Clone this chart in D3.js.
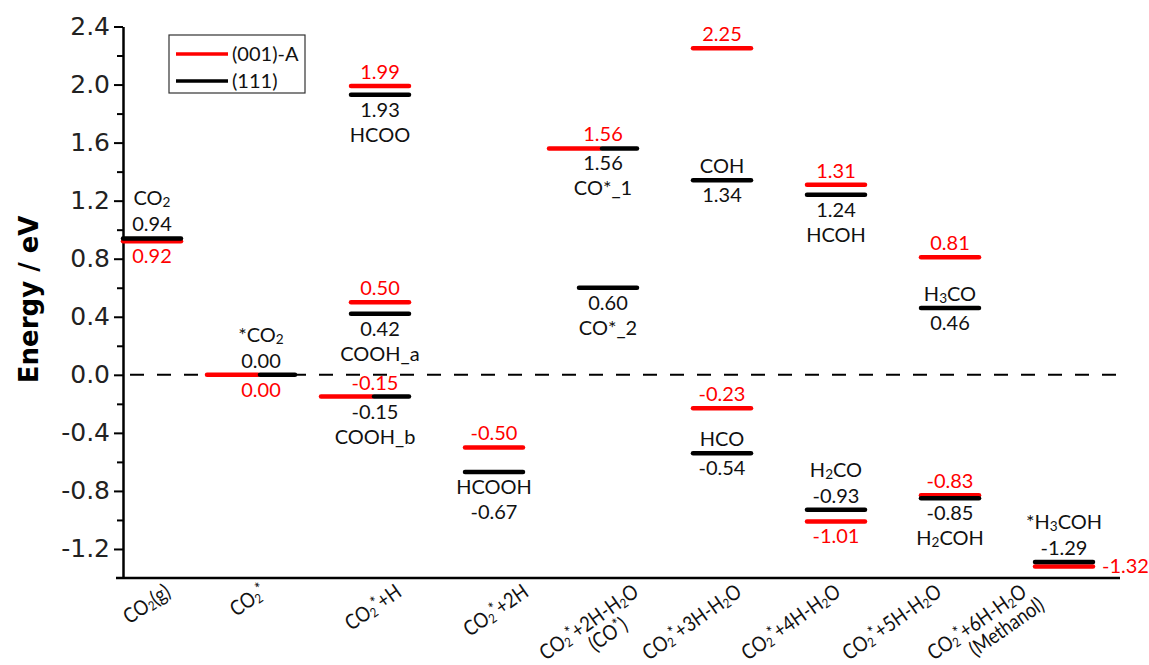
<!DOCTYPE html>
<html>
<head>
<meta charset="utf-8">
<script src="https://cdn.jsdelivr.net/npm/d3@7/dist/d3.min.js"></script>
<style>
  body { margin: 0; background: #fff; }
  svg text { font-family: Lato, "Open Sans", sans-serif; }
</style>
</head>
<body>
<div id="chart"></div>
<script>
// markup in labels: {2} = subscript, ^{*} = superscript, | = new line
const categories = ["CO{2}(g)", "CO{2}^{*}", "CO{2}^{*}+H", "CO{2}^{*}+2H", "CO{2}^{*}+2H-H{2}O|(CO^{*})",
  "CO{2}^{*}+3H-H{2}O", "CO{2}^{*}+4H-H{2}O", "CO{2}^{*}+5H-H{2}O", "CO{2}^{*}+6H-H{2}O|(Methanol)"];

// (001)-A surface (red)
const steps001 = [0, 1, 2, 2, 2, 3, 4, 5, 5, 6, 6, 7, 7, 8];
const energy001 = [0.92, 0.00, 1.99, 0.50, -0.15, -0.50, 1.56, 2.25, -0.23, 1.31, -1.01, 0.81, -0.83, -1.32];

// (111) surface (black)
const steps111 = [0, 1, 2, 2, 2, 3, 4, 4, 5, 5, 6, 6, 7, 7, 8];
const energy111 = [0.94, 0.00, 1.93, 0.42, -0.15, -0.67, 1.56, 0.60, 1.34, -0.54, 1.24, -0.93, 0.46, -0.85, -1.29];
const species111 = ["CO{2}", "*CO{2}", "HCOO", "COOH_a", "COOH_b", "HCOOH", "CO*_1", "CO*_2", "COH", "HCO",
  "HCOH", "H{2}CO", "H{3}CO", "H{2}COH", "*H{3}COH"];

const yTicks = [2.4, 2.0, 1.6, 1.2, 0.8, 0.4, 0.0, -0.4, -0.8, -1.2];
const yMinorTicks = [2.2, 1.8, 1.4, 1.0, 0.6, 0.2, -0.2, -0.6, -1.0];
const legendLabels = ["(001)-A", "(111)"];
const colors = ["#ff0000", "#000000"];

// label placement: a = above bar, a2 = two rows above, b = below, b2 = two rows below, r = right
const place001 = ["b", "b", "a", "a", "a", "a", "a", "a", "a", "a", "b", "a", "a", "r"];
const placeVal111 = ["a", "a", "b", "b", "b", "b2", "b", "b", "b", "b", "b", "a", "b", "b", "a"];
const placeName111 = ["a2", "a2", "b2", "b2", "b2", "b", "b2", "b2", "a", "a", "b2", "a2", "a", "b2", "a2"];
const rowOffset = { a: -7, a2: -33, b: 22, b2: 47 };
// hand nudges of the rotated category labels (end of first line, end of second line)
const catShift = [20, 2, 23, 36, 32, 21, 6, -7, -36];
const line2Shift = { 4: -28, 8: 7 };

const W = 1149, H = 665;
const plot = { left: 123, right: 1120, top: 26.5, bottom: 578 };

const svg = d3.select("#chart").append("svg")
  .attr("width", W).attr("height", H)
  .style("background", "#fff");

const x = d3.scalePoint()
  .domain(d3.range(categories.length))
  .range([152, 1064]);

const y = d3.scaleLinear()
  .domain([-1.4, 2.4])
  .range([plot.bottom, plot.top]);

// writes a label with sub/superscripts into a text element
function rich(textSel, str, size, sub = 0.68, sup = 0.3) {
  const parts = str.match(/\^\{[^}]*\}|\{[^}]*\}|[^{^]+/g) || [];
  let shift = 0;
  parts.forEach(p => {
    let t = p, s = size, target = 0;
    if (p.startsWith("^{")) { t = p.slice(2, -1); s = size * 0.8; target = -size * sup; }
    else if (p.startsWith("{")) { t = p.slice(1, -1); s = size * sub; target = size * 0.1; }
    textSel.append("tspan")
      .attr("font-size", s)
      .attr("dy", target - shift)
      .text(t);
    shift = target;
  });
}

// zero reference line
svg.append("line")
  .attr("x1", plot.left).attr("x2", 1118)
  .attr("y1", y(0)).attr("y2", y(0))
  .attr("stroke", "#000").attr("stroke-width", 2)
  .attr("stroke-dasharray", "14,13").attr("stroke-dashoffset", 20);

// y axis
const yAxis = svg.append("g")
  .attr("transform", "translate(" + plot.left + ",0)")
  .call(d3.axisLeft(y).tickValues(yTicks).tickSize(9).tickSizeOuter(0).tickPadding(4)
    .tickFormat(d => d.toFixed(1)));
yAxis.select(".domain").attr("stroke-width", 2.5);
yAxis.selectAll(".tick line").attr("stroke-width", 2);
yAxis.selectAll(".tick text")
  .style("font-family", "'DejaVu Sans', Verdana, sans-serif")
  .style("font-size", "25px")
  .attr("fill", "#222");

svg.append("g")
  .attr("transform", "translate(" + plot.left + ",0)")
  .call(d3.axisLeft(y).tickValues(yMinorTicks).tickSize(6).tickFormat(""))
  .call(g => g.select(".domain").remove())
  .selectAll(".tick line").attr("stroke-width", 2);

// x axis line
svg.append("line")
  .attr("x1", plot.left - 7).attr("x2", plot.right)
  .attr("y1", plot.bottom).attr("y2", plot.bottom)
  .attr("stroke", "#000").attr("stroke-width", 2.5);

// rotated category labels (condensed a little, the original font is narrow)
categories.forEach((c, i) => {
  const lines = c.split("|");
  const g = svg.append("g")
    .attr("transform", "translate(" + (x(i) + catShift[i]) + ",595) rotate(-35) scale(0.86,1)");
  const t1 = g.append("text").attr("text-anchor", "end").attr("fill", "#111");
  rich(t1, lines[0], 21, 0.62, 0.22);
  if (lines.length > 1) {
    const t2 = g.append("text").attr("text-anchor", "end").attr("fill", "#111")
      .attr("x", line2Shift[i] / 0.86).attr("y", 21);
    rich(t2, lines[1], 21, 0.62, 0.22);
  }
});

// axis title
svg.append("text")
  .attr("transform", "translate(38," + y(0.52) + ") rotate(-90)")
  .attr("text-anchor", "middle")
  .style("font-family", "'DejaVu Sans', Verdana, sans-serif")
  .style("font-size", "26px")
  .style("font-weight", "bold")
  .text("Energy / eV");

// red and black levels; a shared value on the same step splits the bar
const levels001 = energy001.map((e, i) => ({ step: steps001[i], e, place: place001[i] }));
const levels111 = energy111.map((e, i) => ({ step: steps111[i], e, val: placeVal111[i], name: species111[i], nplace: placeName111[i] }));
const isSplit = (step, e) =>
  levels001.some(d => d.step === step && Math.abs(d.e - e) < 0.005) &&
  levels111.some(d => d.step === step && Math.abs(d.e - e) < 0.005);

function span(d, series) {
  const cx = x(d.step);
  if (!isSplit(d.step, d.e)) return [cx - 29, cx + 29];
  return series === 0 ? [cx - 59, cx - 8] : [cx - 6, cx + 29];
}

svg.append("g").selectAll("line")
  .data(levels001).enter().append("line")
  .attr("x1", d => span(d, 0)[0]).attr("x2", d => span(d, 0)[1])
  .attr("y1", d => y(d.e)).attr("y2", d => y(d.e))
  .attr("stroke", colors[0]).attr("stroke-width", 4.5).attr("stroke-linecap", "round");

svg.append("g").selectAll("line")
  .data(levels111).enter().append("line")
  .attr("x1", d => span(d, 1)[0]).attr("x2", d => span(d, 1)[1])
  .attr("y1", d => y(d.e)).attr("y2", d => y(d.e))
  .attr("stroke", colors[1]).attr("stroke-width", 4.5).attr("stroke-linecap", "round");

const labelX = d => isSplit(d.step, d.e) ? x(d.step) - 5 : x(d.step);

// red values
levels001.forEach(d => {
  const t = svg.append("text").attr("fill", colors[0]).style("font-size", "20px");
  if (d.place === "r") {
    t.attr("x", x(d.step) + 38).attr("y", y(d.e) + 7).attr("text-anchor", "start");
  } else {
    t.attr("x", labelX(d)).attr("y", y(d.e) + rowOffset[d.place]).attr("text-anchor", "middle");
  }
  t.text(d.e.toFixed(2));
});

// black values and species names
levels111.forEach(d => {
  svg.append("text").attr("fill", "#111").style("font-size", "20px")
    .attr("x", labelX(d)).attr("y", y(d.e) + rowOffset[d.val]).attr("text-anchor", "middle")
    .text(d.e.toFixed(2));
  const n = svg.append("text").attr("fill", "#111").style("font-size", "20px")
    .attr("x", labelX(d)).attr("y", y(d.e) + rowOffset[d.nplace]).attr("text-anchor", "middle");
  rich(n, d.name, 20);
});

// legend
const legend = svg.append("g").attr("transform", "translate(169,35)");
legend.append("rect")
  .attr("width", 136).attr("height", 58)
  .attr("fill", "#fff").attr("stroke", "#333").attr("stroke-width", 1.2);
legendLabels.forEach((l, i) => {
  legend.append("line")
    .attr("x1", 7).attr("x2", 59)
    .attr("y1", 19 + i * 27).attr("y2", 19 + i * 27)
    .attr("stroke", colors[i]).attr("stroke-width", 3.5);
  legend.append("text")
    .attr("x", 63).attr("y", 26 + i * 27)
    .attr("fill", "#111").style("font-size", "20px")
    .text(l);
});
</script>
</body>
</html>
